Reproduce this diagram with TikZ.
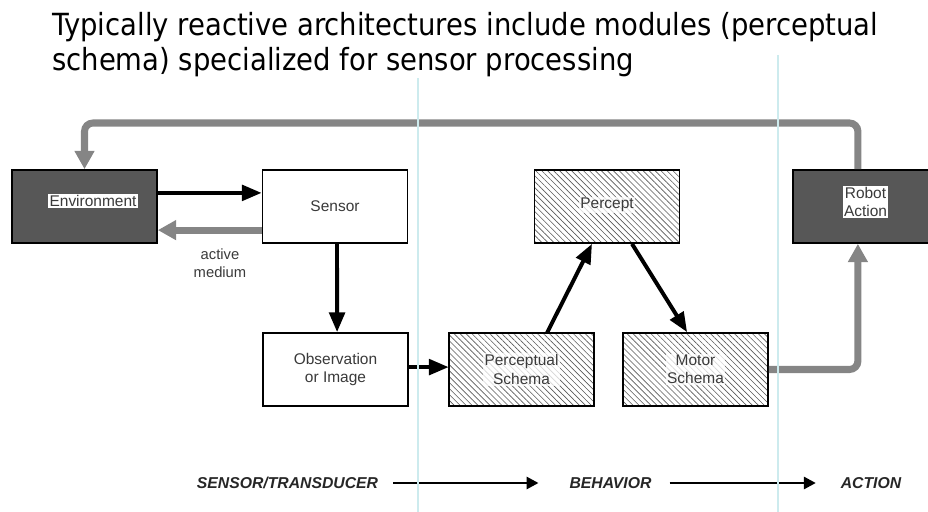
\documentclass[tikz,border=0pt]{standalone}
\usepackage{fontspec}
\setmainfont{Liberation Sans}
\newfontfamily\titlefont{DejaVu Sans Condensed}
\usetikzlibrary{arrows.meta,patterns.meta}
\definecolor{feedgray}{HTML}{858585}
\definecolor{darkfill}{HTML}{575757}
\definecolor{guidecyan}{HTML}{CDEBEE}
\definecolor{labelgray}{HTML}{3A3A3A}
\begin{document}
\begin{tikzpicture}[x=0.025cm, y=-0.025cm,
  plainbox/.style={draw, line width=1.2pt, fill=white, minimum width=3.625cm, minimum height=1.825cm, align=center, text=labelgray, font=\fontsize{11}{13}\selectfont},
  darkbox/.style={plainbox, fill=darkfill},
  hatchbox/.style={plainbox, pattern={Lines[angle=-45,distance=3pt,line width=0.45pt]}, pattern color=black!65},
  whitelabel/.style={fill=white, inner sep=1pt, align=center, text=labelgray, font=\fontsize{11}{13}\selectfont},
  hatchlabel/.style={whitelabel, fill opacity=0.75, text opacity=1},
  flow/.style={line width=2.8pt, -{Triangle[length=14pt,width=11pt]}},
  feedback/.style={line width=5pt, draw=feedgray, rounded corners=6pt, -{Triangle[length=13pt,width=13.5pt]}, color=feedgray},
  stage/.style={font=\fontsize{11.2}{13}\selectfont\bfseries\itshape, text=black!85},
  stagearrow/.style={line width=2pt, -{Triangle[length=8.5pt,width=8.5pt]}}]
  \useasboundingbox (0,0) rectangle (928,512);

  % title
  \node[anchor=north west, align=left, inner sep=0pt, font=\titlefont\fontsize{21.7}{25}\selectfont] (title) at (52,12)
    {Typically reactive architectures include modules (perceptual\\schema) specialized for sensor processing};

  % boxes
  \node[darkbox] (env) at (84.5,206.5) {};
  \node[whitelabel] (envtext) at (93,201) {Environment};
  \node[plainbox] (sensor) at (335,206.5) {Sensor};
  \node[plainbox] (obs) at (335.5,369.5) {Observation\\or Image};
  \node[hatchbox] (ps) at (521.5,369.5) {};
  \node[hatchlabel] (pstext) at (521.5,369.5) {Perceptual\\Schema};
  \node[hatchbox] (percept) at (607,206.5) {};
  \node[hatchlabel] (percepttext) at (607,205) {Percept};
  \node[hatchbox] (ms) at (695.5,369.5) {};
  \node[hatchlabel] (mstext) at (695.5,369.5) {Motor\\Schema};
  \node[darkbox] (robot) at (865.5,206.5) {};
  \node[whitelabel] (robottext) at (865.5,202) {Robot\\Action};

  % black flow
  \draw[flow] ([yshift=0.34cm]env.east) -- ([yshift=0.34cm]sensor.west);
  \draw[flow] ([xshift=0.05cm]sensor.south) -- ([xshift=0.04cm]obs.north);
  \draw[flow] ([yshift=0.06cm]obs.east) -- ([yshift=0.06cm]ps.west);
  \draw[flow] ([xshift=0.64cm]ps.north) -- ([xshift=-0.375cm]percept.south);
  \draw[flow] ([xshift=0.625cm]percept.south) -- ([xshift=-0.21cm]ms.north);

  % gray paths
  \node[text=labelgray, align=center, font=\fontsize{10.5}{12.5}\selectfont] (medium) at (220,263) {active\\medium};
  \draw[feedback] ([yshift=-0.59cm]sensor.west) -- ([yshift=-0.59cm]env.east);
  \draw[feedback] (ms.east) -| ([xshift=-0.19cm]robot.south);
  \coordinate (topleft) at (84.5,123);
  \draw[feedback] ([xshift=-0.19cm]robot.north) |- (topleft) -- (env.north);

  % stages
  \node[stage] (transducer) at (287.5,483) {SENSOR/TRANSDUCER};
  \node[stage] (behavior) at (610.5,483) {BEHAVIOR};
  \node[stage] (action) at (871,483) {ACTION};
  \draw[stagearrow, shorten <=0.25cm, shorten >=0.65cm] (transducer.east) -- (behavior.west);
  \draw[stagearrow, shorten <=0.33cm, shorten >=0.5cm] (behavior.east) -- (action.west);

  % guide lines
  \draw[guidecyan, line width=1.4pt] (418,78) -- (418,512);
  \draw[guidecyan, line width=1.4pt] (778,55) -- (778,512);
\end{tikzpicture}
\end{document}
